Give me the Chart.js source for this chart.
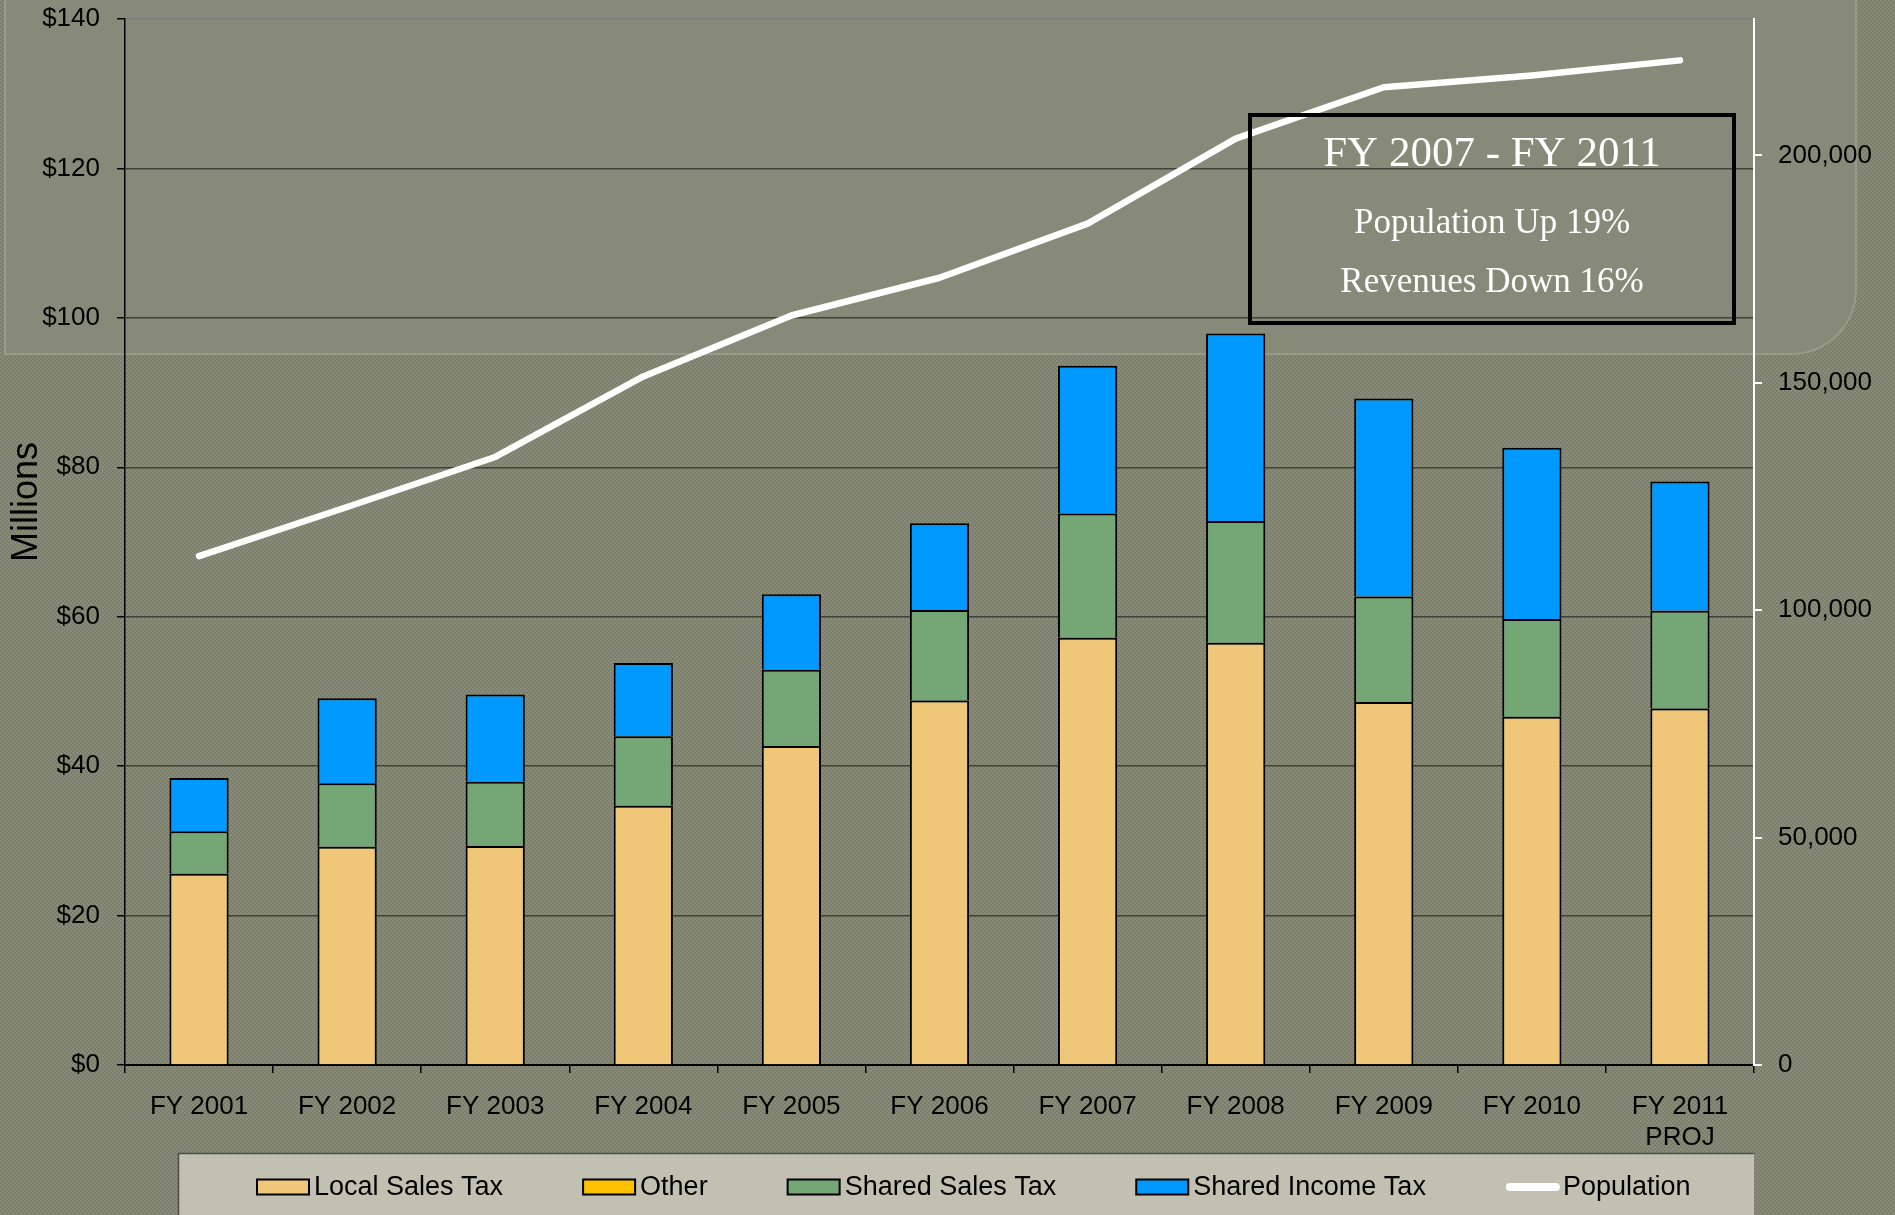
<!DOCTYPE html>
<html>
<head>
<meta charset="utf-8">
<title>Revenues and Population</title>
<script src="https://cdn.jsdelivr.net/npm/chart.js@4.4.1/dist/chart.umd.min.js"></script>
<style>
  html, body { margin: 0; padding: 0; }
  body {
    width: 1895px;
    height: 1215px;
    overflow: hidden;
    background-color: #80846f;
    background-image: repeating-conic-gradient(#7a7e6b 0% 25%, #888c78 0% 50%);
    background-size: 4px 4px;
    position: relative;
  }
  #panel {
    position: absolute;
    left: 4px;
    top: -2px;
    width: 1849px;
    height: 353px;
    background: #878a78;
    border: 2px solid #989b88;
    border-bottom-right-radius: 66px;
  }
  #wrap {
    position: absolute;
    left: 0;
    top: 0;
    width: 1895px;
    height: 1215px;
  }
</style>
</head>
<body>
<div id="panel"></div>
<div id="wrap"><canvas id="revChart"></canvas></div>
<script>
const years = ["FY 2001", "FY 2002", "FY 2003", "FY 2004", "FY 2005", "FY 2006",
  "FY 2007", "FY 2008", "FY 2009", "FY 2010", ["FY 2011", "PROJ"]];

// $ millions
const localSalesTax = [25.6, 29.2, 29.3, 34.7, 42.7, 48.8, 57.2, 56.5, 48.6, 46.6, 47.7];
const otherRevenue = [0, 0, 0, 0, 0, 0, 0, 0, 0, 0, 0];
const sharedSalesTax = [5.7, 8.5, 8.6, 9.3, 10.2, 12.1, 16.6, 16.3, 14.1, 13.1, 13.1];
const sharedIncomeTax = [7.1, 11.4, 11.7, 9.8, 10.1, 11.6, 19.8, 25.1, 26.5, 22.9, 17.3];

// residents, right axis
const population = [111900, 122700, 133700, 151400, 164800, 173100, 185000, 203700, 215000, 217600, 220900];

const moneyTicks = [0, 20, 40, 60, 80, 100, 120, 140];
const popTicks = [0, 50000, 100000, 150000, 200000];

const note = ["FY 2007 - FY 2011", "Population Up 19%", "Revenues Down 16%"];

const sans = "'Liberation Sans', Arial, sans-serif";
const serif = "'Liberation Serif', 'Times New Roman', serif";
Chart.defaults.font.family = sans;
Chart.defaults.color = "#000";

// Millions title, the FY 2007 - FY 2011 box and the legend strip
const extras = {
  id: "extras",
  afterDraw(chart) {
    const ctx = chart.ctx;
    ctx.save();

    ctx.translate(27.5, 502);
    ctx.rotate(-Math.PI / 2);
    ctx.fillStyle = "#000";
    ctx.font = "36px " + sans;
    ctx.textAlign = "center";
    ctx.textBaseline = "middle";
    ctx.fillText("Millions", 0, 0);
    ctx.setTransform(1, 0, 0, 1, 0, 0);

    // note box
    ctx.lineWidth = 4;
    ctx.strokeStyle = "#000";
    ctx.strokeRect(1250, 115, 484, 208);
    ctx.fillStyle = "#fff";
    ctx.textAlign = "center";
    ctx.textBaseline = "alphabetic";
    ctx.font = "43px " + serif;
    ctx.fillText(note[0], 1492, 166);
    ctx.font = "35px " + serif;
    ctx.fillText(note[1], 1492, 233);
    ctx.fillText(note[2], 1492, 292);

    // legend
    ctx.fillStyle = "#c1c0b1";
    ctx.fillRect(178, 1153, 1576, 70);
    ctx.strokeStyle = "#4a4b42";
    ctx.lineWidth = 1.5;
    ctx.beginPath();
    ctx.moveTo(178.5, 1215);
    ctx.lineTo(178.5, 1153.5);
    ctx.lineTo(1754, 1153.5);
    ctx.stroke();

    const cy = 1187;
    let x = 257;
    ctx.font = "27px " + sans;
    ctx.textAlign = "left";
    ctx.textBaseline = "middle";
    chart.data.datasets.forEach((ds) => {
      if (ds.type === "line") {
        ctx.strokeStyle = ds.borderColor;
        ctx.lineWidth = 8;
        ctx.lineCap = "round";
        ctx.beginPath();
        ctx.moveTo(x + 4, cy);
        ctx.lineTo(x + 50, cy);
        ctx.stroke();
      } else {
        ctx.fillStyle = ds.backgroundColor;
        ctx.fillRect(x, cy - 7.5, 52, 15);
        ctx.strokeStyle = "#000";
        ctx.lineWidth = 2;
        ctx.strokeRect(x, cy - 7.5, 52, 15);
      }
      ctx.fillStyle = "#000";
      ctx.fillText(ds.label, x + 57, cy + 1);
      x += 57 + ctx.measureText(ds.label).width + 80;
    });

    ctx.restore();
  }
};

function barSet(label, data, color) {
  return {
    type: "bar",
    label: label,
    data: data,
    backgroundColor: color,
    borderColor: "#000",
    borderWidth: 2,
    yAxisID: "y",
    order: 1,
    barPercentage: 0.8,
    categoryPercentage: 0.5,
  };
}

const tickFont = { size: 26 };

new Chart(document.getElementById("revChart"), {
  data: {
    labels: years,
    datasets: [
      barSet("Local Sales Tax", localSalesTax, "#f0c778"),
      barSet("Other", otherRevenue, "#ffc000"),
      barSet("Shared Sales Tax", sharedSalesTax, "#74a676"),
      barSet("Shared Income Tax", sharedIncomeTax, "#0099ff"),
      {
        type: "line",
        label: "Population",
        data: population,
        borderColor: "#fff",
        borderWidth: 6.5,
        borderCapStyle: "round",
        borderJoinStyle: "round",
        pointRadius: 0,
        tension: 0,
        yAxisID: "y2",
        order: 0,
      },
    ],
  },
  options: {
    responsive: true,
    maintainAspectRatio: false,
    animation: false,
    layout: { padding: { top: 19, bottom: 62, left: 0, right: 0 } },
    plugins: {
      legend: { display: false },
      tooltip: { enabled: false },
    },
    scales: {
      x: {
        stacked: true,
        grid: { offset: true, drawOnChartArea: false, tickColor: "#000", tickLength: 8, lineWidth: 1.5 },
        border: { color: "#000", width: 2 },
        ticks: { font: tickFont, color: "#000", padding: 18, maxRotation: 0, autoSkip: false },
        afterFit: (s) => { s.height = 88; },
      },
      y: {
        stacked: true,
        min: 0,
        max: 140,
        afterBuildTicks: (s) => { s.ticks = moneyTicks.map((v) => ({ value: v })); },
        ticks: { font: tickFont, color: "#000", padding: 17, callback: (v) => "$" + v },
        grid: {
          color: (c) => (c.tick && c.tick.value === 140 ? "#7c7d80" : "#3f4237"),
          tickColor: "#000",
          tickLength: 8,
          lineWidth: 1.5,
        },
        border: { color: "#000", width: 1.5 },
        afterFit: (s) => { s.width = 125; s.paddingTop = 0; s.paddingBottom = 0; },
      },
      y2: {
        position: "right",
        min: 0,
        max: 230000,
        afterBuildTicks: (s) => { s.ticks = popTicks.map((v) => ({ value: v })); },
        ticks: { font: tickFont, color: "#000", padding: 16, callback: (v) => v.toLocaleString("en-US") },
        grid: { drawOnChartArea: false, tickColor: "#fff", tickLength: 8, lineWidth: 2 },
        border: { color: "#fff", width: 2 },
        afterFit: (s) => { s.width = 141; s.paddingTop = 0; s.paddingBottom = 0; },
      },
    },
  },
  plugins: [extras],
});
</script>
</body>
</html>
